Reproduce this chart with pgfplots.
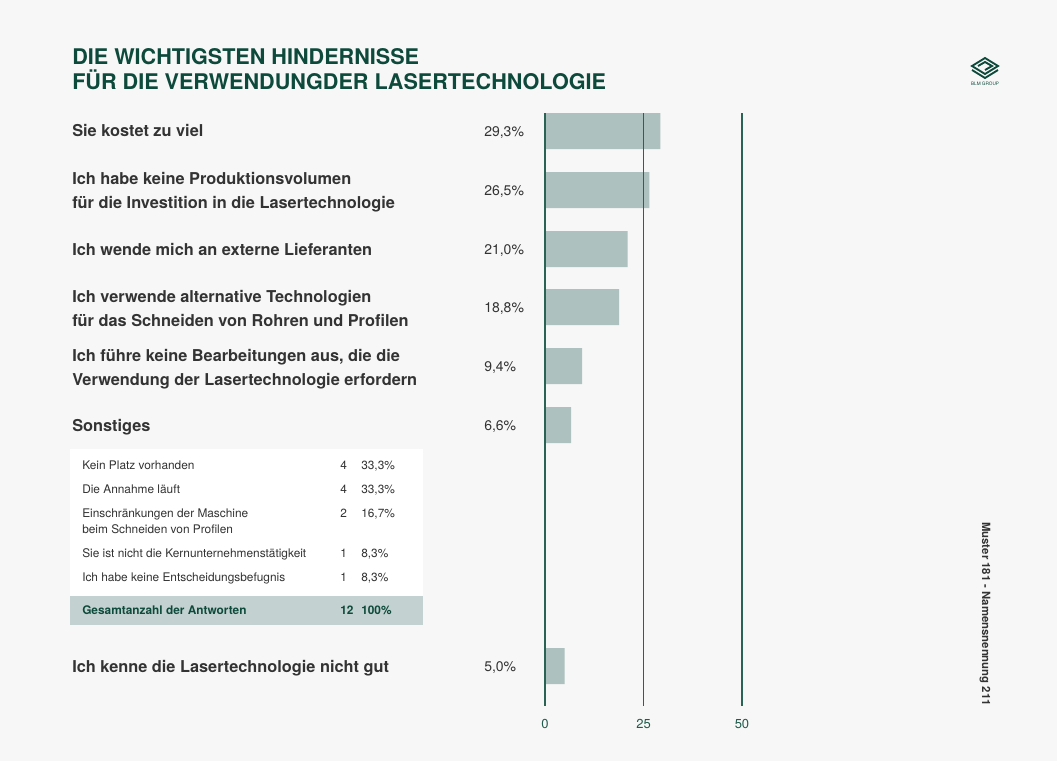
\documentclass[border=0pt]{standalone}
\usepackage{pgfplots}
\pgfplotsset{compat=1.18}
\usepackage{fontspec}
\setmainfont{TeX Gyre Heros}
\definecolor{bg}{HTML}{F7F7F7}
\definecolor{titlec}{HTML}{0E4A3B}
\definecolor{gridc}{HTML}{2A6353}
\definecolor{barc}{HTML}{ADC1BE}
\definecolor{labc}{HTML}{333333}
\definecolor{totc}{HTML}{C3D2D0}
\definecolor{tickc}{HTML}{1F5B4A}
\begin{document}
\begin{tikzpicture}[x=0.75pt,y=-0.75pt]
\fill[bg] (0,0) rectangle (1057,761);
% title
\node[anchor=base west,inner sep=0,text=titlec,font=\fontsize{16.2pt}{18pt}\selectfont\bfseries] at (72,64) {DIE WICHTIGSTEN HINDERNISSE};
\node[anchor=base west,inner sep=0,text=titlec,font=\fontsize{16.2pt}{18pt}\selectfont\bfseries] at (72,89) {FÜR DIE VERWENDUNGDER LASERTECHNOLOGIE};
% logo
\begin{scope}[line width=1.4pt,draw=titlec]
\draw (972,66) -- (985,58) -- (998,66) -- (985,74) -- cycle;
\draw (978,66) -- (985,62) -- (992,66) -- (985,70);
\draw (972,70) -- (985,78) -- (998,70);
\end{scope}
\node[anchor=base,inner sep=0,text=titlec,font=\fontsize{3.5pt}{4pt}\selectfont] at (985,85) {BLM GROUP};
% category labels
\begin{scope}[every node/.style={anchor=base west,inner sep=0,text=labc,font=\fontsize{12.25pt}{14pt}\selectfont\bfseries}]
\node at (72,136.5) {Sie kostet zu viel};
\node at (72,184) {Ich habe keine Produktionsvolumen};
\node at (72,208) {für die Investition in die Lasertechnologie};
\node at (72,255) {Ich wende mich an externe Lieferanten};
\node at (72,302) {Ich verwende alternative Technologien};
\node at (72,326) {für das Schneiden von Rohren und Profilen};
\node at (72,361) {Ich führe keine Bearbeitungen aus, die die};
\node at (72,385) {Verwendung der Lasertechnologie erfordern};
\node at (72,431) {Sonstiges};
\node at (72,672) {Ich kenne die Lasertechnologie nicht gut};
\end{scope}
% value labels
\begin{scope}[every node/.style={anchor=base west,inner sep=0,text=labc,font=\fontsize{10.5pt}{12pt}\selectfont}]
\node at (484,136) {29,3\%};
\node at (484,195) {26,5\%};
\node at (484,254) {21,0\%};
\node at (484,312) {18,8\%};
\node at (484,371) {9,4\%};
\node at (484,430) {6,6\%};
\node at (484,671) {5,0\%};
\end{scope}
% table
\fill[white] (70,449) rectangle (423,625);
\fill[totc] (70,596) rectangle (423,625);
\begin{scope}[every node/.style={anchor=base west,inner sep=0,text=labc,font=\fontsize{8.9pt}{10pt}\selectfont}]
\node at (82,469) {Kein Platz vorhanden};
\node at (340,469) {4};
\node at (361,469) {33,3\%};
\node at (82,493) {Die Annahme läuft};
\node at (340,493) {4};
\node at (361,493) {33,3\%};
\node at (82,517) {Einschränkungen der Maschine};
\node at (82,533) {beim Schneiden von Profilen};
\node at (340,517) {2};
\node at (361,517) {16,7\%};
\node at (82,557) {Sie ist nicht die Kernunternehmenstätigkeit};
\node at (340,557) {1};
\node at (361,557) {8,3\%};
\node at (82,581) {Ich habe keine Entscheidungsbefugnis};
\node at (340,581) {1};
\node at (361,581) {8,3\%};
\end{scope}
\begin{scope}[every node/.style={anchor=base west,inner sep=0,text=titlec,font=\fontsize{8.9pt}{10pt}\selectfont\bfseries}]
\node at (82,614) {Gesamtanzahl der Antworten};
\node at (340,614) {12};
\node at (361,614) {100\%};
\end{scope}
% rotated note
\node[rotate=-90,inner sep=0,text=labc,font=\fontsize{8.5pt}{10pt}\selectfont\bfseries] at (985,614) {Muster 181 - Namensnennung 211};
% chart
\begin{axis}[at={(408.75pt,-529.5pt)}, anchor=south west, scale only axis,
  width=147.75pt, height=444.75pt,
  xmin=0, xmax=50, ymin=113, ymax=706, y dir=reverse,
  xbar, bar width=36,
  axis line style={draw=none}, major tick length=0pt,
  ytick=\empty, xtick={0,25,50},
  xmajorgrids, grid style={gridc, line width=1pt},
  axis on top,
  xticklabel style={text=tickc, font=\fontsize{9.75pt}{11pt}\selectfont, yshift=-6.75pt},
  /pgf/number format/assume math mode=true,
  clip=false]
\addplot[fill=barc, draw=none] coordinates {(29.3,131) (26.5,190) (21.0,249) (18.8,307) (9.4,366) (6.6,425) (5.0,666)};
\end{axis}
\end{tikzpicture}
\end{document}
